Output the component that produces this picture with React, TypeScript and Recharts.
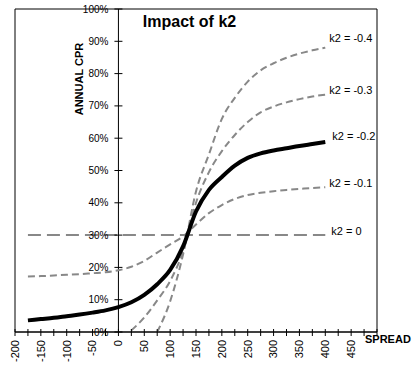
import React from "react";
import {
  LineChart,
  Line,
  XAxis,
  YAxis,
  ReferenceLine,
  ReferenceArea,
  ReferenceDot,
  LabelList,
} from "recharts";

// spread (bp) at each point of the curves
const spreads = [
  -175, -150, -125, -100, -75, -50, -25, 0, 25, 50, 75, 100, 125, 150, 175, 200,
  225, 250, 275, 300, 325, 350, 375, 400,
];

// annual CPR (%) for each k2
const k2m04 = [
  null, null, null, null, null, null, null, null, null, null, 0, 9.5, 24, 43.5,
  55, 66, 72.5, 77.5, 81, 83.2, 84.9, 86.2, 87.2, 88,
];
const k2m03 = [
  null, null, null, null, null, null, null, null, 0.5, 4.5, 9.8, 15.8, 25, 40,
  49.5, 56, 61, 65, 68, 69.8, 71.1, 72.1, 72.9, 73.5,
];
const k2m02 = [
  3.6, 4.0, 4.4, 4.9, 5.4, 6.0, 6.7, 7.7, 9.2, 11.5, 14.8, 19.2, 26.5, 37.3, 44,
  48, 51.5, 53.9, 55.3, 56.2, 56.9, 57.6, 58.2, 58.8,
];
const k2m01 = [
  17.2, 17.3, 17.5, 17.7, 17.9, 18.2, 18.5, 19.1, 20.2, 22.0, 24.6, 27.1, 29.6,
  33.3, 36.8, 39.3, 41.2, 42.4, 43.1, 43.6, 44.0, 44.3, 44.6, 44.8,
];
const k2zero = [
  30, 30, 30, 30, 30, 30, 30, 30, 30, 30, 30, 30, 30, 30, 30, 30, 30, 30, 30,
  30, 30, 30, 30, 30,
];

const seriesLabels = ["k2 = -0.4", "k2 = -0.3", "k2 = -0.2", "k2 = -0.1", "k2 = 0"];

// axis ticks
const xTicks = [
  -200, -175, -150, -125, -100, -75, -50, -25, 0, 25, 50, 75, 100, 125, 150, 175,
  200, 225, 250, 275, 300, 325, 350, 375, 400, 425, 450, 475, 500,
];
const yTicks = [0, 10, 20, 30, 40, 50, 60, 70, 80, 90, 100];

const data = spreads.map((s, i) => ({
  spread: s,
  m04: k2m04[i],
  m03: k2m03[i],
  m02: k2m02[i],
  m01: k2m01[i],
  z: k2zero[i],
}));

const FONT = "'Liberation Sans', Arial, sans-serif";
const GRAY = "#888888";
const last = spreads.length - 1;

// label at the right end of each curve
const endLabel = (text, dx, dy) => (props) => {
  const { x, y, index } = props;
  if (index !== last) return null;
  return (
    <text x={x + dx} y={y + dy} fontSize={11} fontFamily={FONT} fill="#000">
      {text}
    </text>
  );
};

const XTick = (props) => {
  const { x, y, payload } = props;
  const v = payload.value;
  const show = v % 50 === 0 && v <= 450;
  return (
    <g transform={`translate(${x},${y})`}>
      <line y1={-3} y2={4} stroke="#000" />
      {show && (
        <text
          transform="rotate(-90)"
          x={-8}
          dy="0.35em"
          textAnchor="end"
          fontSize={11}
          fontFamily={FONT}
          fill="#000"
        >
          {v}
        </text>
      )}
    </g>
  );
};

const yTickShape = (v) => (p) => (
  <g>
    <line x1={p.cx - 4} x2={p.cx + 4} y1={p.cy} y2={p.cy} stroke="#000" />
    <text
      x={p.cx - 10}
      y={p.cy + 3.5}
      textAnchor="end"
      fontSize={10}
      fontFamily={FONT}
      fill="#000"
    >
      {v}%
    </text>
  </g>
);

export default function App() {
  return (
    <div style={{ position: "absolute", left: 0, top: 0, width: 420, height: 379, background: "#fff" }}>
      <LineChart
        width={420}
        height={379}
        data={data}
        margin={{ top: 9, right: 43, bottom: 17, left: 15 }}
      >
        <XAxis
          dataKey="spread"
          type="number"
          domain={[-200, 500]}
          ticks={xTicks}
          interval={0}
          height={30}
          tickSize={0}
          tickMargin={0}
          tickLine={false}
          axisLine={{ stroke: "#000" }}
          tick={<XTick />}
        />
        <YAxis type="number" domain={[0, 100]} ticks={yTicks} hide />
        <ReferenceArea
          x1={-200}
          x2={500}
          y1={0}
          y2={100}
          fill="none"
          stroke="#000"
          strokeWidth={1}
          ifOverflow="visible"
        />
        <ReferenceLine x={0} stroke="#000" />
        {yTicks.map((v) => (
          <ReferenceDot key={v} x={0} y={v} r={0} shape={yTickShape(v)} ifOverflow="visible" />
        ))}

        <Line
          dataKey="z"
          stroke={GRAY}
          strokeWidth={2}
          strokeDasharray="13 6"
          dot={false}
          isAnimationActive={false}
        >
          <LabelList dataKey="z" content={endLabel(seriesLabels[4], 6, 0)} />
        </Line>
        <Line
          type="monotone"
          dataKey="m01"
          stroke={GRAY}
          strokeWidth={2}
          strokeDasharray="7 4"
          dot={false}
          isAnimationActive={false}
        >
          <LabelList dataKey="m01" content={endLabel(seriesLabels[3], 4, 0)} />
        </Line>
        <Line
          type="monotone"
          dataKey="m03"
          stroke={GRAY}
          strokeWidth={2}
          strokeDasharray="7 4"
          dot={false}
          isAnimationActive={false}
        >
          <LabelList dataKey="m03" content={endLabel(seriesLabels[1], 4, -1)} />
        </Line>
        <Line
          type="monotone"
          dataKey="m04"
          stroke={GRAY}
          strokeWidth={2}
          strokeDasharray="7 4"
          dot={false}
          isAnimationActive={false}
        >
          <LabelList dataKey="m04" content={endLabel(seriesLabels[0], 4, -6)} />
        </Line>
        <Line
          type="monotone"
          dataKey="m02"
          stroke="#000"
          strokeWidth={4}
          dot={false}
          isAnimationActive={false}
        >
          <LabelList dataKey="m02" content={endLabel(seriesLabels[2], 7, -2)} />
        </Line>
      </LineChart>
      <svg
        width={420}
        height={379}
        style={{ position: "absolute", left: 0, top: 0, pointerEvents: "none" }}
      >
        <text x={189.5} y={27} textAnchor="middle" fontSize={16} fontWeight="bold" fontFamily={FONT}>
          Impact of k2
        </text>
        <text
          transform="translate(82.5,79) rotate(-90)"
          textAnchor="middle"
          fontSize={11}
          fontWeight="bold"
          fontFamily={FONT}
        >
          ANNUAL CPR
        </text>
        <text x={365} y={343.3} fontSize={11} fontWeight="bold" fontFamily={FONT}>
          SPREAD
        </text>
      </svg>
    </div>
  );
}
